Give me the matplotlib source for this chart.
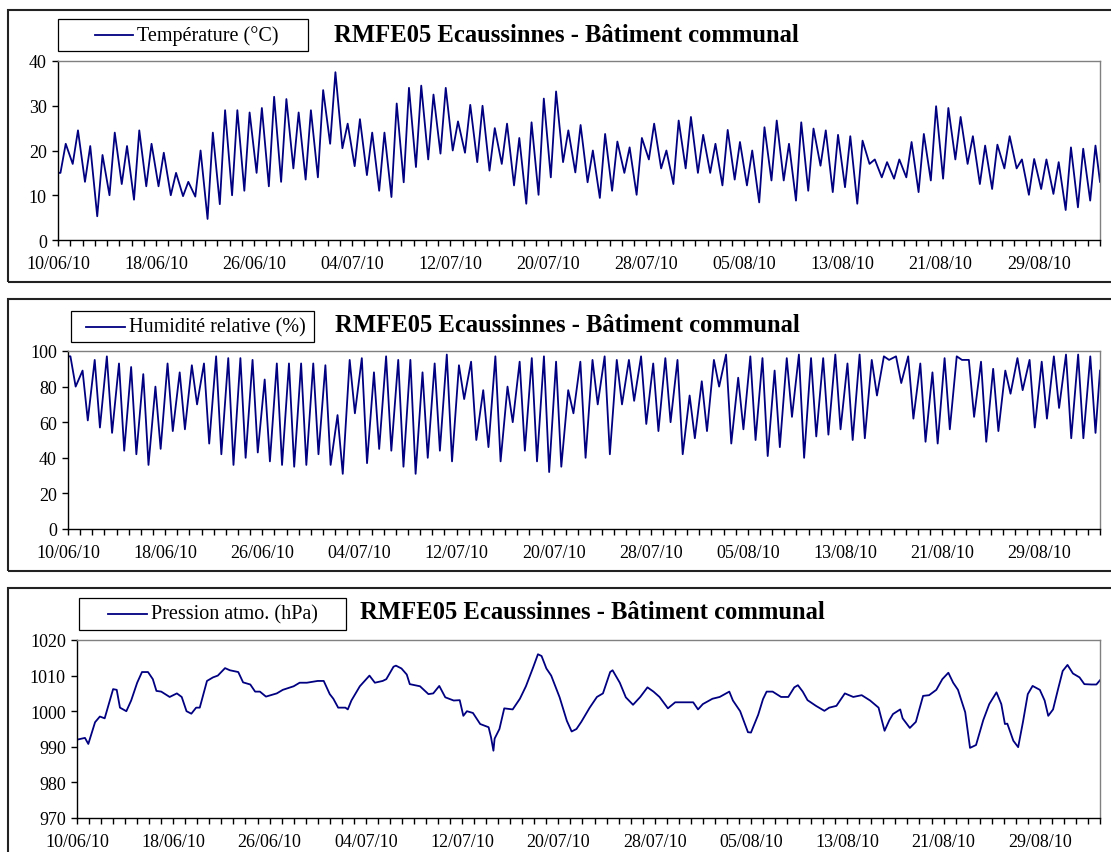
import numpy as np
import pandas as pd
import matplotlib
matplotlib.use("Agg")
import matplotlib.pyplot as plt
from matplotlib.patches import Rectangle
from matplotlib.lines import Line2D
from matplotlib.ticker import MultipleLocator

plt.rcParams['font.family'] = ['Liberation Serif', 'DejaVu Serif']

# Station RMFE05 Ecaussinnes, 10/06/2010 -> 03/09/2010 (days since 10/06)
n_days = 85
x_labels = ['10/06/10', '18/06/10', '26/06/10', '04/07/10', '12/07/10', '20/07/10',
            '28/07/10', '05/08/10', '13/08/10', '21/08/10', '29/08/10']

# daily temperature extremes (degC): min early morning, max in afternoon
temp_min = [15, 17, 13, 5.3, 10, 12.5, 9, 12, 12, 10, 9.8, 9.7, 4.7, 8, 10, 11, 15, 12,
            13, 16, 13.5, 14, 21.5, 20.5, 16.5, 14.5, 11, 9.6, 12.9, 16.3, 18, 19.3, 20,
            19.5, 17.4, 15.5, 17, 12.2, 8.1, 10.1, 14, 17.4, 15.1, 12.9, 9.4, 11, 15, 10.1,
            18, 16, 12.5, 16, 15, 15, 12.2, 13.5, 12.2, 8.4, 13.3, 13.3, 8.8, 11, 16.6, 10.7,
            11.8, 8.1, 17, 14, 13.7, 14, 10.7, 13.3, 13.7, 18, 17, 12.5, 11.4, 16, 16, 10.1,
            11.4, 10.3, 6.7, 7.3, 8.8]
temp_max = [21.5, 24.5, 21, 19, 24, 21, 24.5, 21.5, 19.5, 15, 13, 20, 24, 29, 29, 28.5,
            29.5, 32, 31.5, 28.5, 29, 33.5, 37.5, 26, 27, 24, 24, 30.5, 34, 34.5, 32.5, 34,
            26.5, 30.2, 30, 25, 26, 22.8, 26.3, 31.6, 33.2, 24.5, 25.7, 20, 23.7, 22, 20.7,
            22.8, 26, 20, 26.7, 27.5, 23.5, 21.5, 24.6, 21.9, 20, 25.2, 26.7, 21.5, 26.3,
            24.9, 24.5, 23.5, 23.2, 22.2, 18, 17.4, 18, 21.9, 23.7, 29.9, 29.5, 27.5, 23.2,
            21.1, 21.3, 23.2, 18, 18.1, 18, 17.4, 20.7, 20.4, 21.1]
temp_first, temp_last = 15, 13

# daily relative humidity extremes (%): max early morning, min in afternoon
rh_max = [97, 89, 95, 97, 93, 91, 87, 80, 93, 88, 92, 93, 97, 96, 96, 95, 84, 93, 93, 93,
          93, 92, 64, 95, 96, 88, 97, 95, 95, 88, 93, 98, 92, 94, 78, 97, 80, 94, 96, 97,
          94, 78, 94, 95, 97, 95, 95, 97, 93, 96, 95, 75, 83, 95, 98, 85, 97, 96, 89, 96,
          98, 96, 96, 98, 93, 98, 95, 97, 97, 97, 93, 88, 96, 97, 95, 94, 90, 89, 96, 95,
          94, 97, 98, 98, 97]
rh_min = [80, 61, 57, 54, 44, 42, 36, 45, 55, 56, 70, 48, 42, 36, 40, 43, 38, 36, 35, 36,
          42, 36, 31, 65, 37, 45, 44, 35, 31, 40, 44, 38, 73, 50, 46, 38, 60, 44, 38, 32,
          35, 65, 40, 70, 42, 70, 72, 59, 55, 60, 42, 51, 55, 80, 48, 56, 50, 41, 46, 63,
          40, 52, 53, 56, 50, 51, 75, 95, 82, 62, 49, 48, 56, 95, 63, 49, 55, 76, 78, 57,
          62, 68, 51, 51, 54]
rh_first, rh_last = 97, 89

# atmospheric pressure (hPa) at successive turning points
p_day = [0, 0.66, 0.94, 1.5, 1.9, 2.3, 2.6, 3.0, 3.3, 3.57, 4.1, 4.5, 5.0, 5.4, 5.9, 6.3,
         6.6, 7.0, 7.7, 8.3, 8.7, 9.1, 9.5, 9.9, 10.2, 10.8, 11.3, 11.7, 12.3, 12.7, 13.4,
         13.8, 14.4, 14.8, 15.2, 15.7, 16.6, 17.1, 18.0, 18.5, 19.1, 20.0, 20.5, 21.0,
         21.3, 21.7, 22.3, 22.5, 22.8, 23.5, 24.3, 24.75, 25.4, 25.7, 26.3, 26.5, 26.96,
         27.4, 27.65, 28.5, 29.2, 29.6, 30.1, 30.6, 31.3, 31.8, 32.1, 32.4, 32.9, 33.5,
         34.2, 34.4, 34.6, 34.7, 35.1, 35.5, 36.2, 36.8, 37.3, 37.9, 38.3, 38.6, 39.0,
         39.4, 40.1, 40.7, 41.1, 41.5, 41.9, 42.6, 43.2, 43.7, 44.3, 44.5, 45.1, 45.6,
         46.2, 46.8, 47.4, 47.9, 48.4, 49.1, 49.7, 50.4, 51.2, 51.6, 52.0, 52.8, 53.4,
         54.2, 54.5, 55.1, 55.75, 56.0, 56.6, 57.0, 57.3, 57.8, 58.5, 59.1, 59.6, 59.9,
         60.3, 60.7, 61.4, 62.1, 62.5, 63.1, 63.8, 64.5, 65.2, 65.9, 66.6, 67.1, 67.5,
         67.8, 68.4, 68.6, 69.2, 69.7, 70.3, 70.8, 71.4, 71.9, 72.4, 72.8, 73.2, 73.8,
         74.2, 74.7, 75.3, 75.8, 76.4, 76.8, 77.1, 77.3, 77.8, 78.2, 78.6, 79.0, 79.4,
         80.0, 80.4, 80.7, 81.1, 81.5, 81.9, 82.3, 82.75, 83.3, 83.7, 84.3, 84.7, 85.0]
p_val = [992, 992.5, 990.8, 996.9, 998.5, 998, 1001.5, 1006.2, 1006, 1001, 1000, 1003,
         1008, 1011, 1011, 1009, 1005.7, 1005.5, 1004, 1005, 1004, 1000, 999.3, 1001,
         1001, 1008.5, 1009.5, 1010, 1012.1, 1011.5, 1011, 1008.1, 1007.5, 1005.5, 1005.5,
         1004.1, 1005, 1006, 1007, 1008, 1008, 1008.5, 1008.5, 1004.8, 1003.5, 1001, 1001,
         1000.5, 1003, 1007, 1010, 1008, 1008.5, 1009, 1012.5, 1012.8, 1012, 1010.3,
         1007.6, 1007, 1004.8, 1005, 1007.1, 1003.9, 1003, 1003.1, 998.7, 1000, 999.5,
         996.4, 995.5, 992.7, 988.9, 992.3, 995, 1000.8, 1000.5, 1003.5, 1007, 1012.3,
         1016, 1015.5, 1012, 1010, 1003.9, 997.3, 994.3, 995, 997, 1001, 1004, 1005,
         1011, 1011.5, 1008, 1003.9, 1001.8, 1004, 1006.7, 1005.5, 1004, 1000.8, 1002.5,
         1002.5, 1002.5, 1000.5, 1002, 1003.5, 1004, 1005.5, 1003, 1000, 994.1, 994,
         999, 1003.4, 1005.5, 1005.5, 1004, 1004, 1006.7, 1007.3, 1005.5, 1003.1, 1001.5,
         1000.1, 1001, 1001.5, 1005, 1004, 1004.5, 1003, 1001, 994.5, 997.5, 999.2,
         1000.5, 998, 995.3, 997, 1004.3, 1004.5, 1006, 1009, 1010.8, 1008, 1006, 999.7,
         989.7, 990.5, 997.5, 1002, 1005.3, 1002, 996.4, 996.5, 991.7, 989.9, 997, 1004.8,
         1007.1, 1006, 1003, 998.7, 1000.5, 1006, 1011.3, 1013, 1010.6, 1009.5, 1007.6,
         1007.5, 1007.5, 1008.7]

station_title = 'RMFE05 Ecaussinnes - Bâtiment communal'
line_col = '#000080'

W, H = 1111, 853


def fx(x):
    return x / W


def fy(y):
    return 1 - y / H


def daily_series(first, lows, highs, last, low_at, high_at):
    t = [0.0]
    v = [first]
    for d in range(n_days):
        pts = sorted([(d + low_at, lows[d]), (d + high_at, highs[d])])
        for tt, vv in pts:
            t.append(tt)
            v.append(vv)
    t.append(float(n_days))
    v.append(last)
    return np.array(t), np.array(v)


temp_t, temp_v = daily_series(temp_first, temp_min, temp_max, temp_last, 0.2, 0.63)
rh_t, rh_v = daily_series(rh_first, rh_min, rh_max, rh_last, 0.63, 0.2)

fig = plt.figure(figsize=(W / 100, H / 100), dpi=100)


def panel(frame, plot, legend, title_xy, t, v, ylim, ystep, label):
    # outer frame of the chart
    ft, fb = frame
    fig.add_artist(Rectangle((fx(8), fy(fb)), (1140 - 8) / W, (fb - ft) / H,
                             transform=fig.transFigure, fill=False,
                             ec='#222222', lw=1.5))
    l, t_, r, b = plot
    ax = fig.add_axes([fx(l), fy(b), (r - l) / W, (b - t_) / H])
    ax.plot(t, v, color=line_col, lw=1.3)
    ax.set_xlim(0, n_days)
    ax.set_ylim(*ylim)
    ax.set_yticks(np.arange(ylim[0], ylim[1] + 1, ystep))
    ax.set_xticks(np.arange(len(x_labels)) * 8)
    ax.set_xticklabels(x_labels)
    ax.xaxis.set_minor_locator(MultipleLocator(1))
    ax.tick_params(axis='x', which='both', direction='out', length=4, width=1,
                   labelsize=13, pad=7)
    ax.tick_params(axis='y', direction='out', length=4, width=1, labelsize=13, pad=4)
    for s in ['top', 'right']:
        ax.spines[s].set_color('#808080')
        ax.spines[s].set_linewidth(1)
    for s in ['left', 'bottom']:
        ax.spines[s].set_color('black')
        ax.spines[s].set_linewidth(1)

    # legend box
    lx0, ly0, lx1, ly1, hx0, hx1 = legend
    fig.add_artist(Rectangle((fx(lx0), fy(ly1)), (lx1 - lx0) / W, (ly1 - ly0) / H,
                             transform=fig.transFigure, fill=False, ec='black', lw=0.9))
    ym = (ly0 + ly1) / 2
    fig.add_artist(Line2D([fx(hx0), fx(hx1)], [fy(ym), fy(ym)],
                          transform=fig.transFigure, color=line_col, lw=1.3))
    fig.text(fx(hx1 + 4), fy(ym), label, ha='left', va='center', fontsize=14.5)

    fig.text(fx(title_xy[0]), fy(title_xy[1]), station_title, ha='center', va='center',
             fontsize=17.7, fontweight='bold')
    return ax


panel((10.7, 283), (58, 62, 1100, 241), (58, 20, 308, 52, 95, 133), (566, 36),
      temp_t, temp_v, (0, 40), 10, 'Température (°C)')
panel((300, 572), (68, 352, 1100, 530), (71, 312, 314, 343, 86, 125), (567, 325),
      rh_t, rh_v, (0, 100), 20, 'Humidité relative (%)')
panel((589, 870), (77, 641, 1100, 819), (79, 599, 346, 631, 108, 147), (592, 613),
      np.array(p_day), np.array(p_val), (970, 1020), 10, 'Pression atmo. (hPa)')

fig.savefig('out.png', dpi=100)
